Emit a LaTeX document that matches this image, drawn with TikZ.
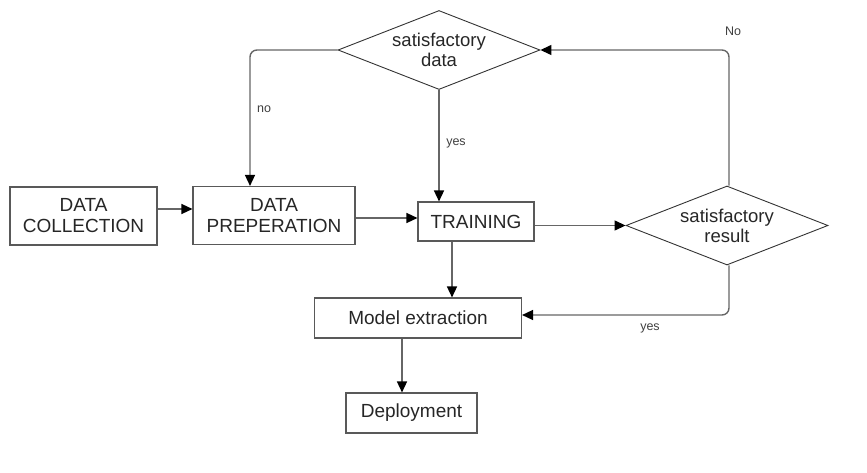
\documentclass[tikz,border=0pt]{standalone}
\usepackage{fontspec}
\setmainfont{Liberation Sans}
\usepackage{tikz}
\usetikzlibrary{shapes.geometric,arrows.meta}

\begin{document}
\begin{tikzpicture}[x=1pt, y=-1pt,
  box/.style={draw=black!65, line width=1.1pt, rectangle, align=center, inner sep=2pt,
    font=\fontsize{19}{21}\selectfont, text=black!85},
  decision/.style={draw=black!80, line width=0.9pt, diamond, aspect=2.56, inner sep=0pt,
    minimum width=202pt, minimum height=79pt, align=center,
    font=\fontsize{18.5}{20}\selectfont, text=black!85},
  flow/.style={draw=black!60, line width=1.4pt,
    -{Triangle[length=11pt,width=10pt,color=black]}, rounded corners=7pt},
  lbl/.style={font=\fontsize{12.5}{14}\selectfont, text=black!75}]
\useasboundingbox (0,0) rectangle (867,473);

% Boxes
\node[box, minimum width=147pt, minimum height=58pt] (collect) at (83.5,216) {DATA\\COLLECTION};
\node[box, minimum width=162pt, minimum height=58pt] (prep) at (274,215.5) {DATA\\PREPERATION};
\node[box, minimum width=116pt, minimum height=39pt] (train) at (476,221.5) {TRAINING};
\node[box, minimum width=207pt, minimum height=40pt] (extract) at (418,318) {Model extraction};
\node[box, minimum width=131pt, minimum height=40pt] (deploy) at (411.5,413) {Deployment};

% Decisions
\node[decision] (sdata) at (439,50) {satisfactory\\data};
\node[decision] (sresult) at (727,225.5) {satisfactory\\result};

% Labels
\node[lbl] (lno) at (264,109) {no};
\node[lbl] (lyes) at (456,143) {yes};
\node[lbl] (lNo) at (733,31) {No};
\node[lbl] (lyes2) at (650,328) {yes};

% Connectors
\draw[flow] ([yshift=7pt]collect.east) -- ([yshift=7pt]collect.east -| prep.west);
\draw[flow] ([yshift=-2.5pt]prep.east) -- ([yshift=-2.5pt]prep.east -| train.west);
\draw[flow] (sresult.west -| train.east) -- (sresult.west);
\draw[flow] (sdata.west) -| ([xshift=-24pt]prep.north);
\draw[flow] (sdata.south) -- (sdata.south |- train.north);
\draw[flow] ([xshift=-24pt]train.south) -- ([xshift=-24pt]train.south |- extract.north);
\draw[flow] ([xshift=2pt]sresult.north) |- (sdata.east);
\draw[flow] ([xshift=2pt]sresult.south) |- ([yshift=3pt]extract.east);
\draw[flow] ([xshift=-16pt]extract.south) -- ([xshift=-16pt]extract.south |- deploy.north);
\end{tikzpicture}
\end{document}
